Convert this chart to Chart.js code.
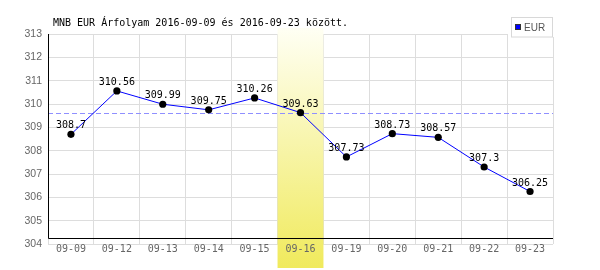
<!DOCTYPE html>
<html>
<head>
<meta charset="utf-8">
<script src="https://cdn.jsdelivr.net/npm/chart.js@4/dist/chart.umd.min.js"></script>
<style>
  html, body { margin: 0; padding: 0; background: #fff; }
  #wrap { width: 600px; height: 270px; position: relative; }
</style>
</head>
<body>
<div id="wrap"><canvas id="c"></canvas></div>
<script>
const title = 'MNB EUR Árfolyam 2016-09-09 és 2016-09-23 között.';
const seriesName = 'EUR';
const dates = ['09-09', '09-12', '09-13', '09-14', '09-15', '09-16', '09-19', '09-20', '09-21', '09-22', '09-23'];
const rates = [308.7, 310.56, 309.99, 309.75, 310.26, 309.63, 307.73, 308.73, 308.57, 307.3, 306.25];
const highlightIndex = 5;
const yMin = 304, yMax = 313;

const mono = '"DejaVu Sans Mono", monospace';

// yellow band behind the selected day, dashed reference line at its rate
const bandPlugin = {
  id: 'band',
  beforeDatasetsDraw(chart) {
    const { ctx, chartArea: a, scales: { x, y } } = chart;
    const half = (x.getPixelForValue(1) - x.getPixelForValue(0)) / 2;
    const cx = x.getPixelForValue(highlightIndex);
    const g = ctx.createLinearGradient(0, 28, 0, 268);
    g.addColorStop(0, '#fffff4');
    g.addColorStop(1, '#f0ea5c');
    ctx.save();
    ctx.fillStyle = g;
    ctx.fillRect(cx - half, 28, half * 2, 240);

    const ry = Math.round(y.getPixelForValue(rates[highlightIndex])) + 0.5;
    ctx.strokeStyle = '#8f8fff';
    ctx.lineWidth = 1;
    ctx.setLineDash([5, 3]);
    ctx.beginPath();
    ctx.moveTo(a.left, ry);
    ctx.lineTo(a.right, ry);
    ctx.stroke();
    ctx.setLineDash([]);

    // black axes
    const by = Math.round(y.getPixelForValue(yMin + 0.27)) + 0.5;
    ctx.strokeStyle = '#000';
    ctx.beginPath();
    ctx.moveTo(a.left + 0.5, a.top);
    ctx.lineTo(a.left + 0.5, by);
    ctx.lineTo(a.right, by);
    ctx.stroke();
    ctx.restore();
  },
  afterDatasetsDraw(chart) {
    const { ctx } = chart;
    const meta = chart.getDatasetMeta(0);
    ctx.save();
    ctx.font = '10px ' + mono;
    ctx.fillStyle = '#000';
    ctx.textAlign = 'center';
    ctx.textBaseline = 'alphabetic';
    meta.data.forEach((pt, i) => {
      ctx.fillText(String(rates[i]), pt.x, pt.y - 6);
    });
    ctx.restore();
  },
  afterDraw(chart) {
    const { ctx } = chart;
    ctx.save();
    // title
    ctx.font = '10px ' + mono;
    ctx.fillStyle = '#000';
    ctx.textBaseline = 'alphabetic';
    ctx.fillText(title, 53, 26);
    // legend box
    ctx.fillStyle = '#fff';
    ctx.fillRect(508, 13, 48, 24);
    ctx.strokeStyle = '#d8d8d8';
    ctx.lineWidth = 1;
    ctx.strokeRect(511.5, 17.5, 41, 19.5);
    ctx.fillStyle = '#0000ff';
    ctx.fillRect(515, 24, 6, 6);
    ctx.strokeStyle = '#333';
    ctx.strokeRect(515.5, 24.5, 5, 5);
    ctx.fillStyle = '#555';
    ctx.font = '10px "Liberation Sans", Arial, sans-serif';
    ctx.textBaseline = 'middle';
    ctx.fillText(seriesName, 524, 28);
    ctx.restore();
  }
};

new Chart(document.getElementById('c'), {
  type: 'line',
  data: {
    labels: dates,
    datasets: [{
      label: seriesName,
      data: rates,
      borderColor: '#0000ff',
      borderWidth: 1,
      tension: 0,
      pointRadius: 3.6,
      pointBackgroundColor: '#000',
      pointBorderColor: '#000',
      pointBorderWidth: 0,
    }]
  },
  options: {
    responsive: true,
    maintainAspectRatio: false,
    animation: false,
    layout: { padding: { top: 34, right: 47, left: 0, bottom: 0 } },
    plugins: { legend: { display: false }, title: { display: false }, tooltip: { enabled: false } },
    scales: {
      x: {
        offset: true,
        afterFit: s => { s.height = 26; },
        grid: { offset: true, color: '#dddddd', drawTicks: false },
        border: { display: false },
        ticks: { z: 1, padding: -1, color: '#666', font: { family: mono, size: 10 }, maxRotation: 0, autoSkip: false },
      },
      y: {
        min: yMin,
        max: yMax,
        afterFit: s => { s.width = 48; },
        grid: { color: '#dddddd', drawTicks: false },
        border: { display: false },
        ticks: { stepSize: 1, padding: 6, color: '#666', font: { family: '"Liberation Sans", Arial, sans-serif', size: 10.5 } },
      }
    }
  },
  plugins: [bandPlugin]
});
</script>
</body>
</html>
